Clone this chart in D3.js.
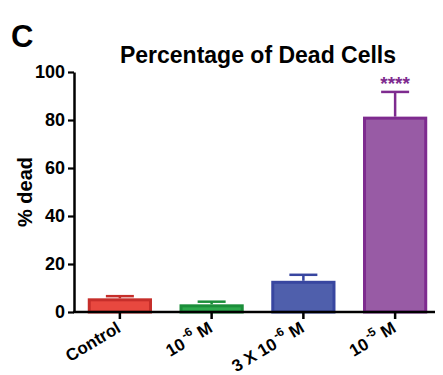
<!DOCTYPE html>
<html><head><meta charset="utf-8">
<script src="https://cdn.jsdelivr.net/npm/d3@7"></script>
<style>body{margin:0;background:#fff}text{font-family:Arial,"Liberation Sans",sans-serif;font-weight:bold}</style>
</head><body>
<script>
const categories = ["Control", "10^-6 M", "3 X 10^-6 M", "10^-5 M"];
const values = [5.7, 3.2, 13.0, 81.4];
const errors = [0.9, 1.1, 2.5, 10.3];
const yTicks = [0, 20, 40, 60, 80, 100];
const fills = ["#e8483f", "#2da84c", "#4f5fac", "#985ba5"];
const strokes = ["#c62e2a", "#1b8e3a", "#3846a0", "#7e2b8f"];
const sig = ["", "", "", "****"];

const W = 443, H = 375;
const svg = d3.select("body").append("svg").attr("width", W).attr("height", H);
const x = d3.scaleBand().domain(categories).range([74, 441]).paddingInner(0.3).paddingOuter(0.15);
const y = d3.scaleLinear().domain([0, 100]).range([312, 72]);

svg.append("text").attr("x", 11).attr("y", 47).attr("font-size", 31).text("C");
svg.append("text").attr("x", 258).attr("y", 63).attr("text-anchor", "middle").attr("font-size", 23).text("Percentage of Dead Cells");

// y axis
const ya = svg.append("g").attr("transform", "translate(74,0)")
  .call(d3.axisLeft(y).tickValues(yTicks).tickSize(6).tickPadding(3).tickSizeOuter(0));
ya.select(".domain").attr("stroke-width", 2.5).attr("stroke", "#000");
ya.selectAll(".tick line").attr("stroke-width", 2.2);
ya.selectAll(".tick text").attr("font-size", 18).attr("font-weight", "bold").attr("fill", "#000").attr("font-family", "Arial, Liberation Sans, sans-serif");

svg.append("text").attr("transform", "translate(32,192) rotate(-90)").attr("text-anchor", "middle").attr("font-size", 20).text("% dead");

// bars
const g = svg.append("g");
categories.forEach((c, i) => {
  const bx = x(c), bw = x.bandwidth(), cx = bx + bw / 2;
  const top = y(values[i] + errors[i]);
  g.append("line").attr("x1", cx).attr("x2", cx).attr("y1", y(values[i])).attr("y2", top)
    .attr("stroke", strokes[i]).attr("stroke-width", 2.5);
  g.append("line").attr("x1", cx - 14).attr("x2", cx + 14).attr("y1", top).attr("y2", top)
    .attr("stroke", strokes[i]).attr("stroke-width", 2.5);
  g.append("rect").attr("x", bx + 1.5).attr("y", y(values[i]) + 1.5).attr("width", bw - 3)
    .attr("height", Math.max(0, y(0) - y(values[i]) - 1.5)).attr("fill", fills[i])
    .attr("stroke", strokes[i]).attr("stroke-width", 3);
  if (sig[i]) {
    g.append("text").attr("x", cx).attr("y", top - 2).attr("text-anchor", "middle")
      .attr("font-size", 19).attr("font-weight", "normal").attr("fill", strokes[i]).text(sig[i]);
  }
});

// x axis
svg.append("line").attr("x1", 73).attr("x2", 435).attr("y1", 312).attr("y2", 312).attr("stroke", "#000").attr("stroke-width", 2.5);
categories.forEach((c, i) => {
  const cx = x(c) + x.bandwidth() / 2;
  svg.append("line").attr("x1", cx).attr("x2", cx).attr("y1", 312).attr("y2", 319).attr("stroke", "#000").attr("stroke-width", 2.5);
  const t = svg.append("text").attr("transform", `translate(${cx + 2},${331}) rotate(-31)`)
    .attr("text-anchor", "end").attr("font-size", 17);
  const parts = c.split("^");
  if (parts.length === 1) t.text(c);
  else {
    const m = parts[1].match(/^(-?\d+)(.*)$/);
    t.append("tspan").text(parts[0]);
    t.append("tspan").attr("dx", 2).attr("dy", -8).attr("font-size", 12).text(m[1]);
    t.append("tspan").attr("dy", 8).text(m[2]);
  }
});
</script>
</body></html>
